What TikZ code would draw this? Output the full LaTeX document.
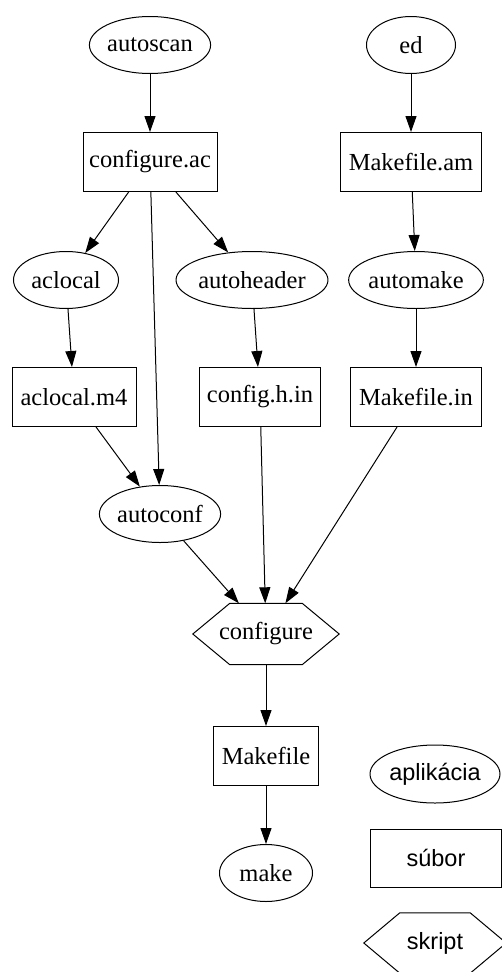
\documentclass[tikz,border=0pt]{standalone}
\usepackage{fontspec}
\setmainfont{Liberation Serif}
\setsansfont{Liberation Sans}
\usepackage{tikz}
\usetikzlibrary{shapes,arrows.meta,positioning,calc}

\begin{document}
\begin{tikzpicture}[x=1pt, y=-1pt, >={Triangle[length=16pt,width=11pt]},
    appnode/.style={draw, ellipse, line width=1pt, inner sep=0pt, minimum height=57pt, font=\rmfamily\fontsize{24.5}{28}\selectfont},
    filenode/.style={draw, rectangle, line width=1pt, inner sep=0pt, minimum height=59pt, font=\rmfamily\fontsize{24.5}{28}\selectfont},
    scriptnode/.style={rectangle, inner sep=0pt, minimum height=61pt, font=\rmfamily\fontsize{24.5}{28}\selectfont},
    legend/.style={font=\sffamily\fontsize{23.5}{27}\selectfont},
    link/.style={->, line width=1pt}]
    \useasboundingbox (0,0) rectangle (502,972);
    \clip (0,0) rectangle (502,972);

    % Applications
    \node[appnode, minimum width=119pt] (autoscan)   at (150,45)  {autoscan};
    \node[appnode, minimum width=89pt]  (ed)         at (411,45)  {ed};
    \node[appnode, minimum width=105pt] (aclocal)    at (66,280)  {aclocal};
    \node[appnode, minimum width=140pt] (autoheader) at (252,280) {autoheader};
    \node[appnode, minimum width=131pt] (automake)   at (416,280) {automake};
    \node[appnode, minimum width=118pt] (autoconf)   at (160,514) {autoconf};
    \node[appnode, minimum width=93pt]  (make)       at (266,873) {make};

    % Files
    \node[filenode, minimum width=134pt] (configureac) at (150,162) {configure.ac};
    \node[filenode, minimum width=141pt] (makefileam)  at (411,162) {Makefile.am};
    \node[filenode, minimum width=124pt] (aclocalmf)   at (74,397)  {aclocal.m4};
    \node[filenode, minimum width=121pt] (confighin)   at (260,397) {config.h.in};
    \node[filenode, minimum width=131pt] (makefilein)  at (416,397) {Makefile.in};
    \node[filenode, minimum width=105pt] (makefile)    at (266,756) {Makefile};

    % Script
    \node[scriptnode, minimum width=146pt] (configure) at (266,634) {configure};

    % Legend
    \node[appnode, legend, minimum width=130pt, minimum height=58pt] (legapp) at (435,774) {aplikácia};
    \node[filenode, legend, minimum width=131pt, minimum height=58pt] (legfile) at (436,858) {súbor};
    \node[scriptnode, legend, minimum width=142pt, minimum height=60pt] (legscript) at (435,943) {skript};

    % Hexagons
    \foreach \n/\d in {configure/37, legscript/36}
        \draw[line width=1pt] (\n.west) -- ([xshift=\d]\n.north west) -- ([xshift=-\d]\n.north east)
            -- (\n.east) -- ([xshift=-\d]\n.south east) -- ([xshift=\d]\n.south west) -- cycle;

    % Edges
    \draw[link] (autoscan) -- (configureac);
    \draw[link] (ed) -- (makefileam);
    \foreach \t in {aclocal, autoheader, autoconf}
        \draw[link] (configureac) -- (\t);
    \draw[link] (makefileam) -- (automake);
    \draw[link] (aclocal) -- (aclocalmf);
    \draw[link] (autoheader) -- (confighin);
    \draw[link] (automake) -- (makefilein);
    \draw[link] (aclocalmf) -- (autoconf);
    \foreach \s in {autoconf, confighin, makefilein}
        \draw[link] (\s) -- (configure);
    \draw[link] (configure) -- (makefile);
    \draw[link] (makefile) -- (make);
\end{tikzpicture}
\end{document}
